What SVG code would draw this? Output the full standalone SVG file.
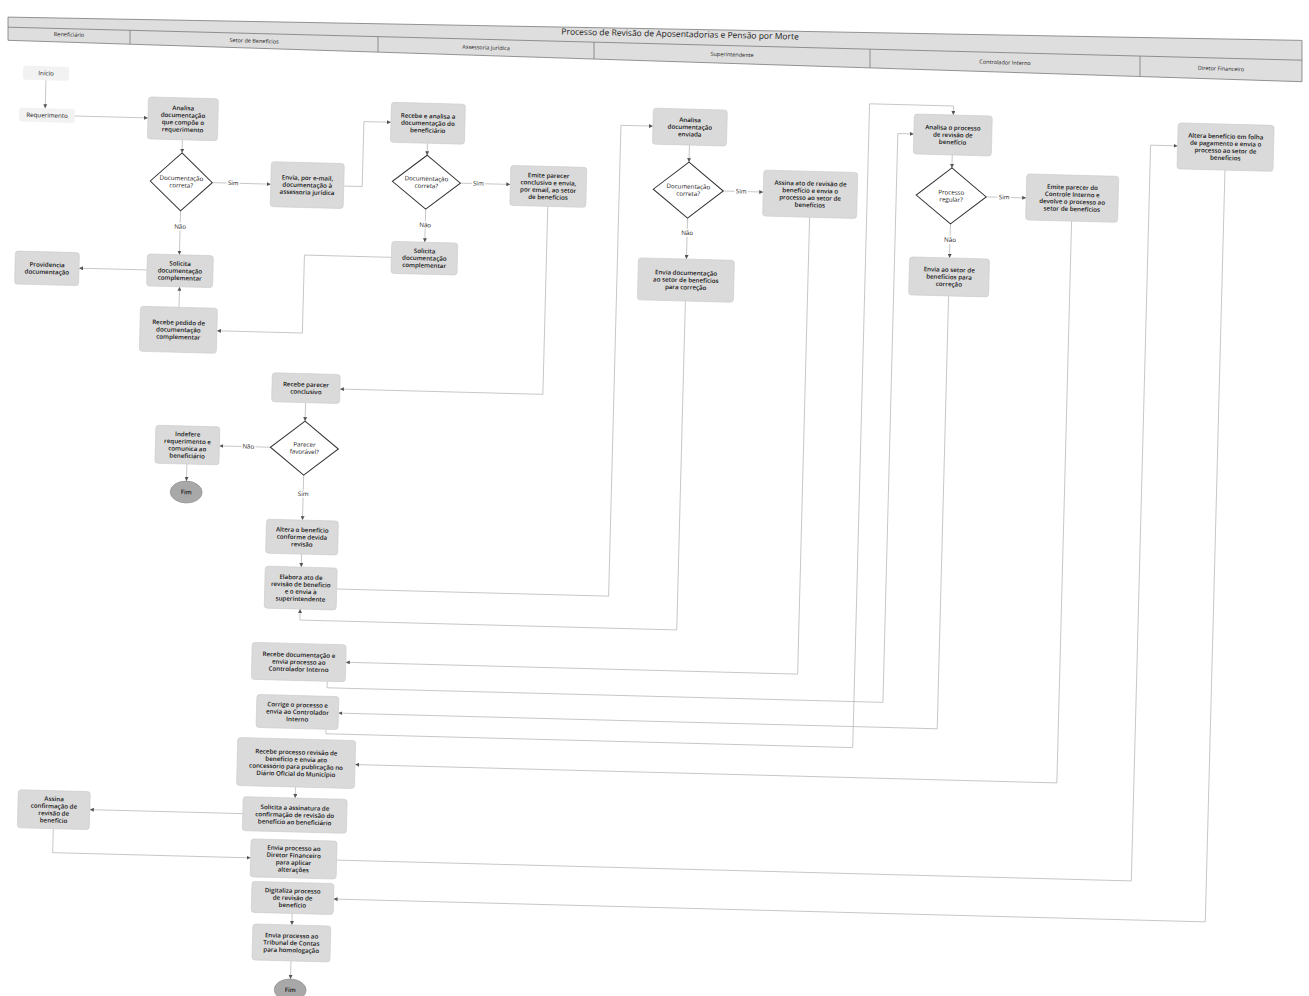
<svg xmlns="http://www.w3.org/2000/svg" width="1309" height="996" viewBox="0 0 1309 996">
<style>
.bg{fill:#ffffff}
.hdr{fill:#dedede;stroke:#7a7a7a;stroke-width:0.8}
.hl{stroke:#7a7a7a;stroke-width:0.8;fill:none}
.ht{font-family:'Open Sans','Liberation Sans',sans-serif;font-size:5.5px;fill:#222;text-anchor:middle}
.title{font-family:'Open Sans','Liberation Sans',sans-serif;font-size:8.5px;fill:#222;text-anchor:middle}
.box{fill:#dadada;stroke:#c8c8c8;stroke-width:0.6}
.boxl{fill:#f2f2f2;stroke:none}
.dia{fill:#ffffff;stroke:#333;stroke-width:1}
.fim{fill:#a8a8a8;stroke:#8a8a8a;stroke-width:0.6}
.t{font-family:'Open Sans','Liberation Sans',sans-serif;font-size:6.2px;fill:#151515;text-anchor:middle;font-weight:600}
.tn{font-family:'Open Sans','Liberation Sans',sans-serif;font-size:6.2px;fill:#151515;text-anchor:middle}
.lbl{font-family:'Open Sans','Liberation Sans',sans-serif;font-size:6.2px;fill:#222;text-anchor:middle;stroke:#fff;stroke-width:3;paint-order:stroke}
.c{fill:none;stroke:#b0b0b0;stroke-width:0.7;marker-end:url(#ah)}
</style>
<defs>
<marker id="ah" markerUnits="userSpaceOnUse" markerWidth="4" markerHeight="4" refX="4" refY="2" orient="auto">
<path d="M0,0 L4,2 L0,4 z" fill="#555"/>
</marker>
</defs>
<rect class="bg" x="0" y="0" width="1309" height="996"/>

<g id="header">
<polygon class="hdr" points="8,17.1 1302,40.4 1302,81.7 8,40.3"/>
<line class="hl" x1="8" y1="27.2" x2="1302" y2="60.2"/>
<line class="hl" x1="130" y1="30.3" x2="130" y2="44.2"/>
<line class="hl" x1="378" y1="36.6" x2="378" y2="52.1"/>
<line class="hl" x1="594" y1="42.1" x2="594" y2="59"/>
<line class="hl" x1="870" y1="49.2" x2="870" y2="67.8"/>
<line class="hl" x1="1140" y1="56.1" x2="1140" y2="76.5"/>
<text class="title" x="680" y="37" transform="rotate(1.2 680 37)">Processo de Revisão de Aposentadorias e Pensão por Morte</text>
<text class="ht" x="69" y="36.5" transform="rotate(1.8 69 36.5)">Beneficiário</text>
<text class="ht" x="254" y="42.8" transform="rotate(1.8 254 42.8)">Setor de Benefícios</text>
<text class="ht" x="486" y="49.5" transform="rotate(1.8 486 49.5)">Assessoria Jurídica</text>
<text class="ht" x="732" y="56.5" transform="rotate(1.8 732 56.5)">Superintendente</text>
<text class="ht" x="1005" y="64.4" transform="rotate(1.8 1005 64.4)">Controlador Interno</text>
<text class="ht" x="1221" y="70.6" transform="rotate(1.8 1221 70.6)">Diretor Financeiro</text>
</g>

<g id="body" transform="rotate(1.5)">
<g id="connectors">
<path class="c" d="M48,79 V107"/>
<path class="c" d="M78,114 H151"/>
<path class="c" d="M186,135 V148"/>
<path class="c" d="M217,177 H275.5"/>
<path class="c" d="M186,206 V250"/>
<path class="c" d="M154,266 H86"/>
<path class="c" d="M187,302.5 V282"/>
<path class="c" d="M398,247 H311 V325 H225.5"/>
<path class="c" d="M348.5,177 H367 V112 H394"/>
<path class="c" d="M431,132 V144"/>
<path class="c" d="M465,171 H515"/>
<path class="c" d="M431,198 V231"/>
<path class="c" d="M553,192 V380 H350"/>
<path class="c" d="M316,394.5 V413"/>
<path class="c" d="M282,440 H231"/>
<path class="c" d="M199,459 V476"/>
<path class="c" d="M316,467 V512"/>
<path class="c" d="M316,546 V559"/>
<path class="c" d="M352,580 H624 V109 H656"/>
<path class="c" d="M693,127 V144"/>
<path class="c" d="M728,172 H768"/>
<path class="c" d="M693,200 V241"/>
<path class="c" d="M693,283 V612 H316 V601"/>
<path class="c" d="M815,196 V653 H363"/>
<path class="c" d="M345,672.5 V679 H901 V110 H917"/>
<path class="c" d="M956,130 V143"/>
<path class="c" d="M991,171 H1031"/>
<path class="c" d="M956,199 V233"/>
<path class="c" d="M956,271 V704 H357"/>
<path class="c" d="M345,720.5 V725 H872 V81 H956 V90"/>
<path class="c" d="M1077,193 V755 H375"/>
<path class="c" d="M316,779 V790"/>
<path class="c" d="M264,807 H111"/>
<path class="c" d="M75,827 V851 H273"/>
<path class="c" d="M359,851 H1154 V115 H1181"/>
<path class="c" d="M1229,138 V890 H357"/>
<path class="c" d="M316,905.5 V917"/>
<path class="c" d="M316,953 V971"/>
<text class="lbl" x="238" y="179">Sim</text>
<text class="lbl" x="186" y="224">Não</text>
<text class="lbl" x="483" y="173">Sim</text>
<text class="lbl" x="431" y="216">Não</text>
<text class="lbl" x="260" y="442">Não</text>
<text class="lbl" x="316" y="488">Sim</text>
<text class="lbl" x="746" y="174">Sim</text>
<text class="lbl" x="693" y="217">Não</text>
<text class="lbl" x="1009" y="173">Sim</text>
<text class="lbl" x="956" y="217">Não</text>
</g>

<g id="n-inicio"><rect class="boxl" x="25" y="65" width="46" height="14" rx="3"/><text class="tn" x="48" y="74.2">Início</text></g>
<g id="n-requerimento"><rect class="boxl" x="22" y="107" width="56" height="14" rx="3"/><text class="tn" x="50" y="116.2">Requerimento</text></g>
<g id="n-providencia"><rect class="box" x="22" y="250.5" width="64" height="33" rx="3"/><text class="t" x="54" y="265.6">Providencia<tspan x="54" dy="7.2">documentação</tspan></text></g>
<g id="n-assina-conf"><rect class="box" x="39" y="789" width="72" height="38" rx="3"/><text class="t" x="75" y="799.4">Assina<tspan x="75" dy="7.2">confirmação de</tspan><tspan x="75" dy="7.2">revisão de</tspan><tspan x="75" dy="7.2">benefício</tspan></text></g>

<g id="n-analisa1"><rect class="box" x="151" y="93" width="70" height="42" rx="3"/><text class="t" x="186" y="105.4">Analisa<tspan x="186" dy="7.2">documentação</tspan><tspan x="186" dy="7.2">que compõe o</tspan><tspan x="186" dy="7.2">requerimento</tspan></text></g>
<g id="n-d1"><polygon class="dia" points="186,148 217,177 186,206 155,177"/><text class="tn" x="186" y="175.6">Documentação<tspan x="186" dy="7.2">correta?</tspan></text></g>
<g id="n-envia-email"><rect class="box" x="275.5" y="154.5" width="73" height="45" rx="3"/><text class="t" x="312" y="172">Envia, por e-mail,<tspan x="312" dy="7.2">documentação à</tspan><tspan x="312" dy="7.2">assessoria jurídica</tspan></text></g>
<g id="n-solicita1"><rect class="box" x="154" y="250" width="66" height="32" rx="3"/><text class="t" x="187" y="261">Solicita<tspan x="187" dy="7.2">documentação</tspan><tspan x="187" dy="7.2">complementar</tspan></text></g>
<g id="n-recebe-pedido"><rect class="box" x="148.5" y="302.5" width="77" height="45" rx="3"/><text class="t" x="187" y="320">Recebe pedido de<tspan x="187" dy="7.2">documentação</tspan><tspan x="187" dy="7.2">complementar</tspan></text></g>
<g id="n-recebe-parecer"><rect class="box" x="282" y="365.5" width="68" height="29" rx="3"/><text class="t" x="316" y="378.6">Recebe parecer<tspan x="316" dy="7.2">conclusivo</tspan></text></g>
<g id="n-d2"><polygon class="dia" points="316,413 350,440 316,467 282,440"/><text class="tn" x="316" y="438.6">Parecer<tspan x="316" dy="7.2">favorável?</tspan></text></g>
<g id="n-indefere"><rect class="box" x="167" y="421" width="64" height="38" rx="3"/><text class="t" x="199" y="431.4">Indefere<tspan x="199" dy="7.2">requerimento e</tspan><tspan x="199" dy="7.2">comunica ao</tspan><tspan x="199" dy="7.2">beneficiário</tspan></text></g>
<g id="n-fim1"><ellipse class="fim" cx="199" cy="487" rx="16" ry="11"/><text class="t" x="199" y="489.2">Fim</text></g>
<g id="n-altera"><rect class="box" x="280" y="512" width="72" height="34" rx="3"/><text class="t" x="316" y="524">Altera o benefício<tspan x="316" dy="7.2">conforme devida</tspan><tspan x="316" dy="7.2">revisão</tspan></text></g>
<g id="n-elabora"><rect class="box" x="280" y="559" width="72" height="42" rx="3"/><text class="t" x="316" y="571.4">Elabora ato de<tspan x="316" dy="7.2">revisão de benefício</tspan><tspan x="316" dy="7.2">e o envia à</tspan><tspan x="316" dy="7.2">superintendente</tspan></text></g>
<g id="n-recebe-doc"><rect class="box" x="269" y="635.5" width="94" height="37" rx="3"/><text class="t" x="316" y="649">Recebe documentação e<tspan x="316" dy="7.2">envia processo ao</tspan><tspan x="316" dy="7.2">Controlador Interno</tspan></text></g>
<g id="n-corrige"><rect class="box" x="275" y="687.5" width="82" height="33" rx="3"/><text class="t" x="316" y="699">Corrige o processo e<tspan x="316" dy="7.2">envia ao Controlador</tspan><tspan x="316" dy="7.2">Interno</tspan></text></g>
<g id="n-recebe-proc"><rect class="box" x="257" y="731" width="118" height="48" rx="3"/><text class="t" x="316" y="746.4">Recebe processo revisão de<tspan x="316" dy="7.2">benefício e envia ato</tspan><tspan x="316" dy="7.2">concessório para publicação no</tspan><tspan x="316" dy="7.2">Diário Oficial do Município</tspan></text></g>
<g id="n-solicita-ass"><rect class="box" x="264" y="790" width="104" height="34" rx="3"/><text class="t" x="316" y="802">Solicita a assinatura de<tspan x="316" dy="7.2">confirmação de revisão do</tspan><tspan x="316" dy="7.2">benefício ao beneficiário</tspan></text></g>
<g id="n-envia-dir"><rect class="box" x="273" y="832" width="86" height="38" rx="3"/><text class="t" x="316" y="842.4">Envia processo ao<tspan x="316" dy="7.2">Diretor Financeiro</tspan><tspan x="316" dy="7.2">para aplicar</tspan><tspan x="316" dy="7.2">alterações</tspan></text></g>
<g id="n-digitaliza"><rect class="box" x="275" y="874.5" width="82" height="31" rx="3"/><text class="t" x="316" y="885">Digitaliza processo<tspan x="316" dy="7.2">de revisão de</tspan><tspan x="316" dy="7.2">benefício</tspan></text></g>
<g id="n-envia-tc"><rect class="box" x="277" y="917" width="78" height="36" rx="3"/><text class="t" x="316" y="930">Envia processo ao<tspan x="316" dy="7.2">Tribunal de Contas</tspan><tspan x="316" dy="7.2">para homologação</tspan></text></g>
<g id="n-fim2"><ellipse class="fim" cx="316" cy="982" rx="16" ry="11"/><text class="t" x="316" y="984.2">Fim</text></g>

<g id="n-recebe-analisa"><rect class="box" x="394" y="92" width="74" height="40" rx="3"/><text class="t" x="431" y="107">Recebe e analisa a<tspan x="431" dy="7.2">documentação do</tspan><tspan x="431" dy="7.2">beneficiário</tspan></text></g>
<g id="n-d3"><polygon class="dia" points="431,144 465,171 431,198 397,171"/><text class="tn" x="431" y="169.6">Documentação<tspan x="431" dy="7.2">correta?</tspan></text></g>
<g id="n-emite-parecer"><rect class="box" x="515" y="152" width="76" height="40" rx="3"/><text class="t" x="553" y="163.4">Emite parecer<tspan x="553" dy="7.2">conclusivo e envia,</tspan><tspan x="553" dy="7.2">por email, ao setor</tspan><tspan x="553" dy="7.2">de benefícios</tspan></text></g>
<g id="n-solicita2"><rect class="box" x="398" y="231" width="66" height="32" rx="3"/><text class="t" x="431" y="242">Solicita<tspan x="431" dy="7.2">documentação</tspan><tspan x="431" dy="7.2">complementar</tspan></text></g>

<g id="n-analisa-sup"><rect class="box" x="656" y="91" width="74" height="36" rx="3"/><text class="t" x="693" y="104">Analisa<tspan x="693" dy="7.2">documentação</tspan><tspan x="693" dy="7.2">enviada</tspan></text></g>
<g id="n-d4"><polygon class="dia" points="693,144 728,172 693,200 658,172"/><text class="tn" x="693" y="170.6">Documentação<tspan x="693" dy="7.2">correta?</tspan></text></g>
<g id="n-assina-ato"><rect class="box" x="768" y="150" width="94" height="46" rx="3"/><text class="t" x="815" y="164.4">Assina ato de revisão de<tspan x="815" dy="7.2">benefício e envia o</tspan><tspan x="815" dy="7.2">processo ao setor de</tspan><tspan x="815" dy="7.2">benefícios</tspan></text></g>
<g id="n-envia-corr"><rect class="box" x="645" y="241" width="96" height="42" rx="3"/><text class="t" x="693" y="257">Envia documentação<tspan x="693" dy="7.2">ao setor de benefícios</tspan><tspan x="693" dy="7.2">para correção</tspan></text></g>

<g id="n-analisa-proc"><rect class="box" x="917" y="90" width="78" height="40" rx="3"/><text class="t" x="956" y="105">Analisa o processo<tspan x="956" dy="7.2">de revisão de</tspan><tspan x="956" dy="7.2">benefício</tspan></text></g>
<g id="n-d5"><polygon class="dia" points="956,143 991,171 956,199 921,171"/><text class="tn" x="956" y="169.6">Processo<tspan x="956" dy="7.2">regular?</tspan></text></g>
<g id="n-emite-ci"><rect class="box" x="1031" y="147" width="92" height="46" rx="3"/><text class="t" x="1077" y="161.4">Emite parecer do<tspan x="1077" dy="7.2">Controle Interno e</tspan><tspan x="1077" dy="7.2">devolve o processo ao</tspan><tspan x="1077" dy="7.2">setor de benefícios</tspan></text></g>
<g id="n-envia-ctrl"><rect class="box" x="916" y="233" width="80" height="38" rx="3"/><text class="t" x="956" y="247">Envia ao setor de<tspan x="956" dy="7.2">benefícios para</tspan><tspan x="956" dy="7.2">correção</tspan></text></g>

<g id="n-altera-fp"><rect class="box" x="1181" y="92" width="96" height="46" rx="3"/><text class="t" x="1229" y="106.4">Altera benefício em folha<tspan x="1229" dy="7.2">de pagamento e envia o</tspan><tspan x="1229" dy="7.2">processo ao setor de</tspan><tspan x="1229" dy="7.2">benefícios</tspan></text></g>
</g>
</svg>
